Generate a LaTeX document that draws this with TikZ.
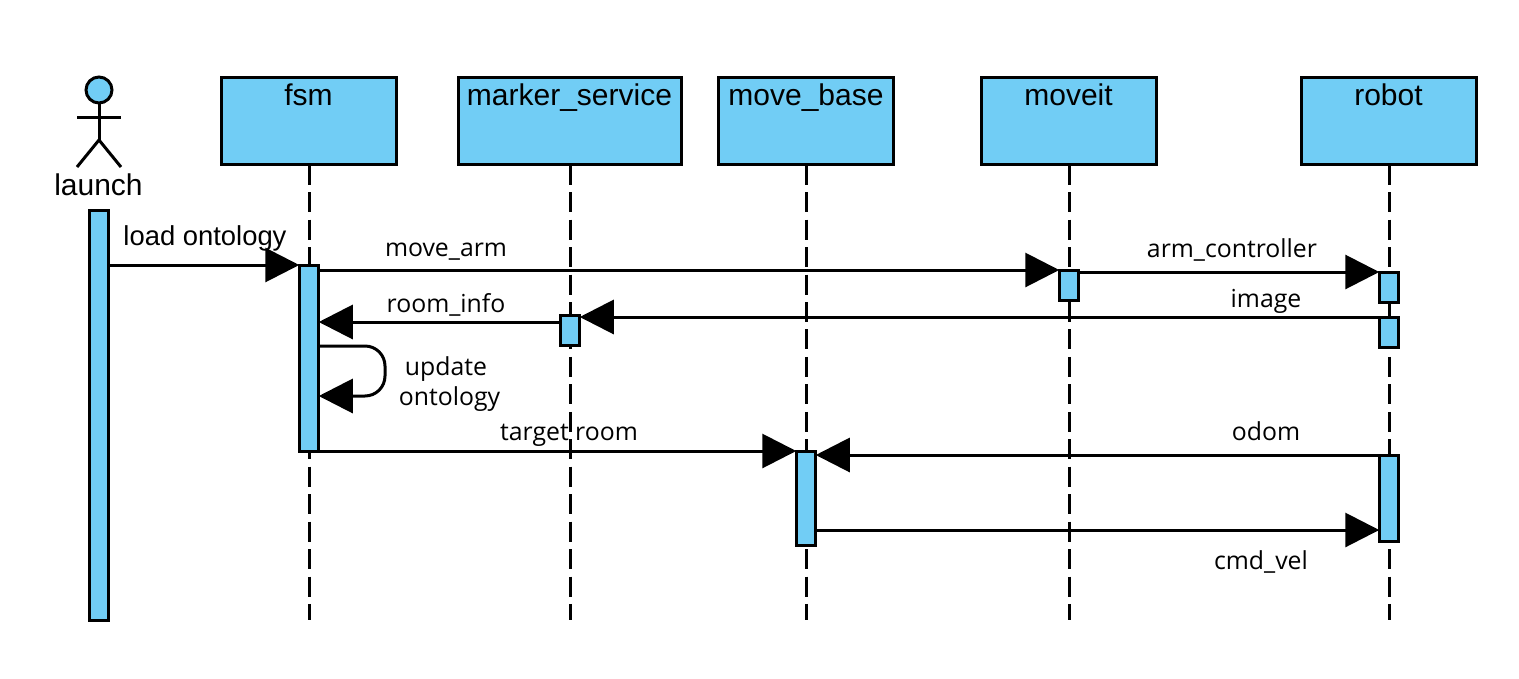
\documentclass[tikz,border=0pt]{standalone}
\usepackage{fontspec}
\setmainfont{Liberation Sans}
\newfontfamily\lblfont{Open Sans}
\usetikzlibrary{arrows.meta}
\definecolor{fillblue}{HTML}{71CDF5}
\tikzset{
  headbox/.style={draw=black,fill=fillblue,line width=3pt,minimum width=175pt,minimum height=87.5pt,outer sep=0pt,inner sep=0pt},
  bar/.style={draw=black,fill=fillblue,line width=3pt,minimum width=19.5pt,outer sep=0pt,inner sep=0pt},
  hdr/.style={font=\fontsize{30}{30}\selectfont,inner sep=0pt,text height=22pt,text depth=6pt},
  life/.style={draw=black,line width=3pt,dash pattern=on 20pt off 7.45pt},
  msg/.style={draw=black,line width=3pt,-{Triangle[length=34pt,width=34pt]}},
  lbl/.style={font=\lblfont\fontsize{24.8}{30}\selectfont,inner sep=0pt,align=center,text=black},
  stick/.style={draw=black,line width=3pt}
}
\begin{document}
\begin{tikzpicture}[x=1pt,y=-1pt]
\useasboundingbox (0,0) rectangle (1519,678);
% heads
\node[headbox] (fsm) at (309,121) {};
\node[headbox,minimum width=222.5pt] (marker) at (570,121) {};
\node[headbox] (move) at (806,121) {};
\node[headbox] (moveit) at (1069,121) {};
\node[headbox] (robot) at (1389,121) {};
\node[hdr] (tfsm) at (308.5,97.5) {fsm};
\node[hdr] (tmarker) at (569.5,97.5) {marker\_service};
\node[hdr] (tmove) at (806,97.5) {move\_base};
\node[hdr] (tmoveit) at (1068.5,97.5) {moveit};
\node[hdr] (trobot) at (1388.5,97.5) {robot};
% actor
\node[circle,draw=black,fill=fillblue,line width=3pt,minimum size=26pt,inner sep=0pt,outer sep=0pt] (head) at (99,90) {};
\coordinate (hip) at (99,140);
\coordinate (arml) at (77,117);
\coordinate (armr) at (121,117);
\coordinate (legl) at (77,167);
\coordinate (legr) at (121,167);
\draw[stick] (head.south) -- (hip);
\draw[stick] (arml) -- (armr);
\draw[stick] (legl) -- (hip) -- (legr);
\node[hdr] (tlaunch) at (98.5,187.5) {launch};
% lifeline ends
\coordinate (efsm) at (309,620);
\coordinate (emarker) at (570,620);
\coordinate (emove) at (806,620);
\coordinate (emoveit) at (1069,620);
\coordinate (erobot) at (1389,620);
\draw[life] (fsm.south) -- (efsm);
\draw[life] (marker.south) -- (emarker);
\draw[life] (move.south) -- (emove);
\draw[life] (moveit.south) -- (emoveit);
\draw[life] (robot.south) -- (erobot);
% activation bars
\node[bar,minimum height=410pt] (blaunch) at (99,415) {};
\node[bar,minimum height=186pt] (bfsm) at (309,358) {};
\node[bar,minimum height=30pt] (bmarker) at (570,330) {};
\node[bar,minimum height=94pt] (bmove) at (806,498) {};
\node[bar,minimum height=30pt] (bmoveit) at (1069,285) {};
\node[bar,minimum height=30pt] (brobota) at (1389,287) {};
\node[bar,minimum height=30pt] (brobotb) at (1389,332) {};
\node[bar,minimum height=86pt] (brobotc) at (1389,498) {};
% messages
\draw[msg] (blaunch.east |- 0,265) -- (bfsm.north west);
\draw[msg] (bfsm.east |- 0,270) -- (bmoveit.north west);
\draw[msg] (bmoveit.east |- 0,272) -- (brobota.north west);
\draw[msg] (brobotb.north west) -- (bmarker.east |- brobotb.north);
\draw[msg] (bmarker.west |- 0,322) -- (bfsm.east |- 0,322);
\coordinate (selfa) at (385,346);
\coordinate (selfb) at (385,396);
\draw[msg,rounded corners=20pt] (bfsm.east |- selfa) -- (selfa) -- (selfb) -- (bfsm.east |- selfb);
\draw[msg] (bfsm.south east) -- (bmove.north west);
\draw[msg] (brobotc.north west) -- (bmove.east |- brobotc.north);
\draw[msg] (bmove.east |- 0,530) -- (brobotc.west |- 0,530);
% labels
\node[font=\fontsize{27.4}{30}\selectfont,inner sep=0pt] (lload) at (205,238) {load ontology};
\node[lbl] (lmovearm) at (446,252) {move\_arm};
\node[lbl] (larm) at (1232,250) {arm\_controller};
\node[lbl] (limage) at (1266,301) {image};
\node[lbl] (lroom) at (446,305) {room\_info};
\node[lbl] (lupdate) at (449.5,384.5) {update\hspace*{7pt}\\ontology};
\node[lbl] (ltarget) at (569,435) {target room};
\node[lbl] (lodom) at (1266,431) {odom};
\node[lbl] (lcmd) at (1261,562) {cmd\_vel};
\end{tikzpicture}
\end{document}
